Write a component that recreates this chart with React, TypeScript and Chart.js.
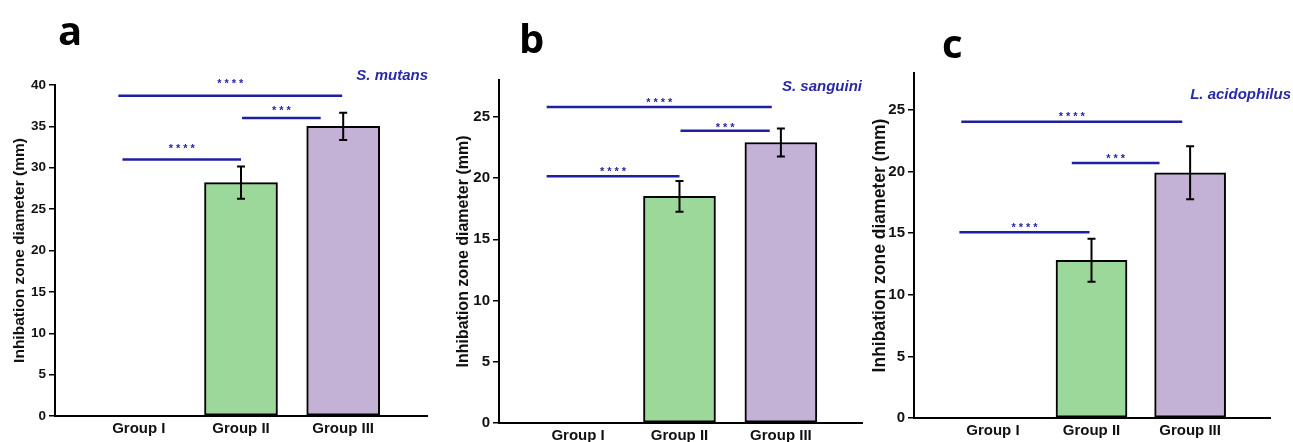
import React, { useEffect, useRef } from "react";
import { Chart, registerables } from "chart.js";

Chart.register(...registerables);

// ---------- data ----------
const groupLabels = ["Group I", "Group II", "Group III"];
const yTitle = "Inhibation zone diameter (mm)";

// a: S. mutans
const mutansMean = [0, 28.2, 35.0];
const mutansSD = [0, 1.95, 1.65];
const mutansSigFrom = [-0.2, 1.01, -0.16];
const mutansSigTo = [1.99, 1.78, 1.0];
const mutansSigLevel = [38.7, 36.0, 31.0];
const mutansStarLevel = [40.4, 37.1, 32.6];
const mutansStars = ["****", "***", "****"];

// b: S. sanguini
const sanguiniMean = [0, 18.5, 22.9];
const sanguiniSD = [0, 1.25, 1.15];
const sanguiniSigFrom = [-0.31, 1.01, -0.31];
const sanguiniSigTo = [1.91, 1.89, 1.0];
const sanguiniSigLevel = [25.8, 23.85, 20.15];
const sanguiniStarLevel = [26.3, 24.3, 20.7];
const sanguiniStars = ["****", "***", "****"];

// c: L. acidophilus
const acidophilusMean = [0, 12.8, 19.9];
const acidophilusSD = [0, 1.75, 2.15];
const acidophilusSigFrom = [-0.32, 0.8, -0.34];
const acidophilusSigTo = [1.92, 1.69, 0.98];
const acidophilusSigLevel = [24.05, 20.7, 15.07];
const acidophilusStarLevel = [24.66, 21.24, 15.6];
const acidophilusStars = ["****", "***", "****"];

// ---------- styling / layout ----------
const FONT = "'Liberation Sans', Arial, sans-serif";
const BAR_COLORS = ["#ffffff", "#9dd89b", "#c3b1d6"];
const SIG_COLOR = "#1f1fa3";
const SPECIES_COLOR = "#2a2aa6";
const TEXT_COLOR = "#111111";
const W = 1293;
const H = 442;

type Panel = {
  letter: string;
  species: string;
  mean: number[];
  sd: number[];
  sigFrom: number[];
  sigTo: number[];
  sigLevel: number[];
  starLevel: number[];
  stars: string[];
  yMax: number;
  xMin: number;
  xMax: number;
  left: number;
  right: number;
  top: number;
  bottom: number;
  titleX: number;
  titleSize: number;
  tickSize: number;
  barThickness: number;
  letterX: number;
  letterY: number;
  speciesX: number;
  speciesY: number;
};

const panels: Panel[] = [
  {
    letter: "a", species: "S. mutans",
    mean: mutansMean, sd: mutansSD, sigFrom: mutansSigFrom, sigTo: mutansSigTo,
    sigLevel: mutansSigLevel, starLevel: mutansStarLevel, stars: mutansStars,
    yMax: 40, xMin: -0.82, xMax: 2.82,
    left: 55, right: 427, top: 85, bottom: 416,
    titleX: 20, titleSize: 15.5, tickSize: 13.5, barThickness: 73,
    letterX: 58, letterY: 45, speciesX: 428, speciesY: 80,
  },
  {
    letter: "b", species: "S. sanguini",
    mean: sanguiniMean, sd: sanguiniSD, sigFrom: sanguiniSigFrom, sigTo: sanguiniSigTo,
    sigLevel: sanguiniSigLevel, starLevel: sanguiniStarLevel, stars: sanguiniStars,
    yMax: 28, xMin: -0.78, xMax: 2.8,
    left: 499, right: 862, top: 80, bottom: 423,
    titleX: 464, titleSize: 16, tickSize: 15, barThickness: 72,
    letterX: 519, letterY: 53, speciesX: 862, speciesY: 91,
  },
  {
    letter: "c", species: "L. acidophilus",
    mean: acidophilusMean, sd: acidophilusSD, sigFrom: acidophilusSigFrom, sigTo: acidophilusSigTo,
    sigLevel: acidophilusSigLevel, starLevel: acidophilusStarLevel, stars: acidophilusStars,
    yMax: 28, xMin: -0.8, xMax: 2.81,
    left: 914, right: 1270, top: 73, bottom: 418,
    titleX: 880, titleSize: 17.5, tickSize: 15, barThickness: 71,
    letterX: 942, letterY: 58, speciesX: 1291, speciesY: 99,
  },
];

function annotationPlugin(p: Panel) {
  return {
    id: "annot" + p.letter,
    afterDraw(chart: any) {
      const ctx: CanvasRenderingContext2D = chart.ctx;
      const xs = chart.scales.x;
      const ys = chart.scales.y;
      ctx.save();
      // error bars
      ctx.strokeStyle = "#000";
      ctx.lineWidth = 2;
      p.mean.forEach((m, i) => {
        const e = p.sd[i];
        if (!e) return;
        const x = xs.getPixelForValue(i);
        const y1 = ys.getPixelForValue(m + e);
        const y2 = ys.getPixelForValue(m - e);
        ctx.beginPath();
        ctx.moveTo(x, y1);
        ctx.lineTo(x, y2);
        ctx.moveTo(x - 4, y1);
        ctx.lineTo(x + 4, y1);
        ctx.moveTo(x - 4, y2);
        ctx.lineTo(x + 4, y2);
        ctx.stroke();
      });
      // significance lines and stars
      ctx.strokeStyle = SIG_COLOR;
      ctx.lineWidth = 2.5;
      ctx.fillStyle = SIG_COLOR;
      ctx.font = `bold 11px ${FONT}`;
      (ctx as any).letterSpacing = "3px";
      ctx.textAlign = "center";
      ctx.textBaseline = "alphabetic";
      p.sigLevel.forEach((lv, i) => {
        const x1 = xs.getPixelForValue(p.sigFrom[i]);
        const x2 = xs.getPixelForValue(p.sigTo[i]);
        const y = ys.getPixelForValue(lv);
        ctx.beginPath();
        ctx.moveTo(x1, y);
        ctx.lineTo(x2, y);
        ctx.stroke();
        const sy = ys.getPixelForValue(p.starLevel[i]);
        const mt = ctx.measureText(p.stars[i]);
        const asc = mt.actualBoundingBoxAscent;
        const desc = mt.actualBoundingBoxDescent;
        ctx.fillText(p.stars[i], (x1 + x2) / 2 + 1.5, sy + (asc - desc) / 2);
      });
      (ctx as any).letterSpacing = "0px";
      // species label
      ctx.fillStyle = SPECIES_COLOR;
      ctx.font = `italic bold 15px ${FONT}`;
      ctx.textAlign = "right";
      ctx.fillText(p.species, p.speciesX, p.speciesY);
      // panel letter
      ctx.fillStyle = "#000";
      ctx.font = `bold 40px 'Open Sans', ${FONT}`;
      ctx.textAlign = "left";
      ctx.fillText(p.letter, p.letterX, p.letterY);
      ctx.restore();
    },
  };
}

function buildChart(canvas: HTMLCanvasElement, p: Panel) {
  const titleLH = p.titleSize * 1.2;
  const padLeft = p.titleX - titleLH / 2;
  const yWidth = p.left - padLeft;
  const xHeight = H - p.bottom;
  return new Chart(canvas, {
    type: "bar",
    data: {
      datasets: [
        {
          data: p.mean.map((v, i) => ({ x: i, y: v })),
          backgroundColor: BAR_COLORS,
          borderColor: "#000",
          borderWidth: 2,
          borderSkipped: false,
          barThickness: p.barThickness,
        } as any,
      ],
    },
    options: {
      responsive: false,
      animation: false,
      devicePixelRatio: 1,
      events: [],
      layout: {
        padding: {
          left: padLeft,
          right: W - p.right,
          top: p.top,
          bottom: 0,
        },
      },
      plugins: { legend: { display: false }, tooltip: { enabled: false } },
      scales: {
        x: {
          type: "linear",
          offset: false,
          min: p.xMin,
          max: p.xMax,
          afterFit: (s: any) => { s.height = xHeight; },
          afterBuildTicks: (s: any) => { s.ticks = groupLabels.map((_, i) => ({ value: i })); },
          border: { display: true, color: "#000", width: 2 },
          grid: { display: false, drawTicks: false, offset: false },
          ticks: {
            autoSkip: false,
            maxRotation: 0,
            padding: 4,
            color: TEXT_COLOR,
            font: { family: FONT, weight: "bold", size: 15 },
            callback: (v: any) => groupLabels[Math.round(Number(v))] ?? "",
          },
        },
        y: {
          min: 0,
          max: p.yMax,
          afterFit: (s: any) => { s.width = yWidth; },
          border: { display: true, color: "#000", width: 2 },
          grid: { display: true, drawOnChartArea: false, drawTicks: true, tickLength: 6, color: "#000", lineWidth: 1.5 },
          ticks: {
            stepSize: 5,
            includeBounds: false,
            padding: 3,
            color: TEXT_COLOR,
            font: { family: FONT, weight: "bold", size: p.tickSize },
          },
          title: {
            display: true,
            text: yTitle,
            color: TEXT_COLOR,
            padding: 0,
            font: { family: FONT, weight: "bold", size: p.titleSize },
          },
        },
      },
    } as any,
    plugins: [annotationPlugin(p)],
  });
}

export default function App() {
  const refs = [useRef<HTMLCanvasElement>(null), useRef<HTMLCanvasElement>(null), useRef<HTMLCanvasElement>(null)];
  useEffect(() => {
    const charts = panels.map((p, i) => buildChart(refs[i].current as HTMLCanvasElement, p));
    return () => charts.forEach((c) => c.destroy());
  }, []);
  return (
    <div style={{ position: "absolute", left: 0, top: 0, width: W, height: H, background: "#fff", overflow: "hidden" }}>
      {panels.map((p, i) => (
        <canvas
          key={p.letter}
          ref={refs[i]}
          width={W}
          height={H}
          style={{ position: "absolute", left: 0, top: 0, width: W, height: H }}
        />
      ))}
    </div>
  );
}
